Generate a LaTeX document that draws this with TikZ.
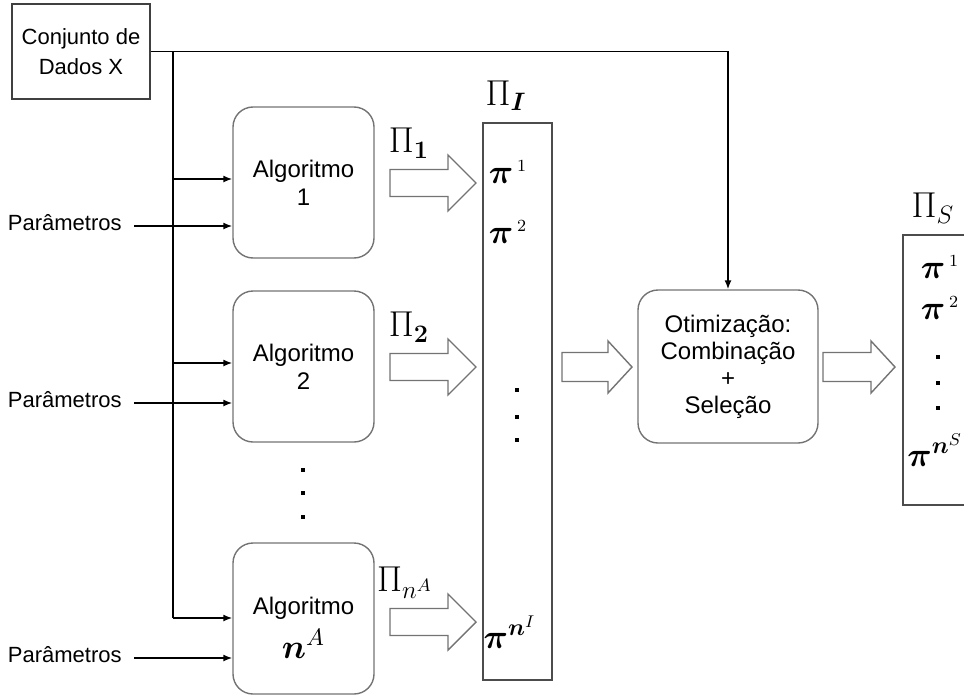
\RequirePackage{fix-cm}
\documentclass[tikz,border=0pt]{standalone}
\usepackage{bm}
\usepackage[no-math]{fontspec}
\setmainfont{Liberation Sans}
\usetikzlibrary{positioning}
\usetikzlibrary{arrows.meta}
\tikzset{
    databox/.style = {rectangle, draw=black!75, line width=0.7pt, minimum width=69pt, minimum height=47.5pt, align=center, font=\fontsize{11}{15}\selectfont},
    algobox/.style = {rectangle, rounded corners=10pt, draw=black!55, line width=0.7pt, minimum width=70.5pt, minimum height=75.5pt, align=center, font=\fontsize{12}{14}\selectfont},
    optbox/.style = {algobox, minimum width=90pt, minimum height=76.5pt, font=\fontsize{12}{13.5}\selectfont},
    column/.style = {rectangle, draw=black!70, line width=0.7pt, minimum width=34.5pt},
    param/.style = {font=\fontsize{11}{13}\selectfont, inner sep=0pt},
    pilabel/.style = {font=\fontsize{18}{20}\selectfont, inner sep=0pt},
    pielem/.style = {font=\fontsize{17}{20}\selectfont, inner sep=0pt},
    edgen/.style = {-{Latex[length=4.5pt,width=3.5pt]}, line width=0.75pt},
    fat/.style = {draw=black!55, line width=0.7pt, fill=white},
}
% tail x, mid y, length, head length, shaft half, head half
\newcommand{\fatarrow}[6]{%
  \draw[fat] (#1,#2-#5) -- (#1+#3-#4,#2-#5) -- (#1+#3-#4,#2-#6) -- (#1+#3,#2)
    -- (#1+#3-#4,#2+#6) -- (#1+#3-#4,#2+#5) -- (#1,#2+#5) -- cycle;}
\newcommand{\piel}[1]{$\bm{\pi}^{\,\scriptscriptstyle #1}$}

\begin{document}
\begin{tikzpicture}[x=0.5pt, y=-0.5pt]
  \useasboundingbox (0,0) rectangle (964,696);
  \clip (0,0) rectangle (964,696);

  \node[databox] (data) at (81,51.5) {Conjunto de\\Dados X};
  \node[algobox] (algo1) at (303.5,182.5) {Algoritmo\\1};
  \node[algobox] (algo2) at (303.5,366.5) {Algoritmo\\2};
  \node[algobox] (algoN) at (303.5,618.5) {\rule{0pt}{18pt}Algoritmo\\[4pt]{\fontsize{17}{20}\selectfont$\bm{n}^{A}$}};
  \node[optbox] (opt) at (728,366.5) {Otimização:\\Combinação\\+\\Seleção};
  \node[column, minimum height=278.5pt] (colI) at (517.5,401.5) {};
  \node[column, minimum height=135pt, minimum width=42pt] (colS) at (945,370) {};

  % data line and bus
  \coordinate (bustop) at (173,52);
  \draw[edgen] (data.east) -| (opt.north);
  \foreach \a/\yb/\yp in {algo1/179/226, algo2/363/403, algoN/618/658}{
    \coordinate (b-\a) at (173,\yb);
    \coordinate (q-\a) at (134,\yp);
    \draw[edgen] (b-\a) -- (b-\a -| \a.west);
    \node[param, anchor=base east, yshift=-2pt] (p-\a) at ([xshift=-6pt]q-\a) {Parâmetros};
    \draw[edgen] (q-\a) -- (q-\a -| \a.west);
  }
  \draw[line width=0.75pt] (bustop) -- (b-algoN);

  % dots between algorithms
  \foreach \y in {470,493,517} \fill (303,\y) +(-2.2,-2.2) rectangle +(2.2,2.2);

  % block arrows
  \fatarrow{390}{183}{86}{28}{13.5}{28}
  \fatarrow{390}{367}{86}{28}{13.5}{28}
  \fatarrow{390}{622}{86}{28}{13.5}{28}
  \fatarrow{562}{367}{70}{24}{14.5}{26}
  \fatarrow{823}{367}{72}{24}{14.5}{26}

  \node[pilabel] (Pi1) at (409,143) {$\Pi_{\mathbf{1}}$};
  \node[pilabel] (Pi2) at (409,327) {$\Pi_{\mathbf{2}}$};
  \node[pilabel] (PiN) at (405,583) {$\Pi_{n^{A}}$};
  \node[pilabel] (PiI) at (506,96) {$\Pi_{\bm{I}}$};
  \node[pilabel] (PiS) at (933,208) {$\Pi_{S}$};

  % partitions
  \node[pielem] (pi1-I) at (508,172) {\piel{1}};
  \node[pielem] (pi2-I) at (508,232) {\piel{2}};
  \node[pielem] (piN-I) at (510,632) {$\bm{\pi}^{\bm{n}^{I}}$};
  \foreach \y in {390,417,440} \fill (517,\y) +(-2.2,-2.2) rectangle +(2.2,2.2);
  \node[pielem] (pi1-S) at (940,267) {\piel{1}};
  \node[pielem] (pi2-S) at (940,308) {\piel{2}};
  \node[pielem] (piN-S) at (935,450) {$\bm{\pi}^{\bm{n}^{S}}$};
  \foreach \y in {357,383,408} \fill (938,\y) +(-2.2,-2.2) rectangle +(2.2,2.2);

\end{tikzpicture}
\end{document}
